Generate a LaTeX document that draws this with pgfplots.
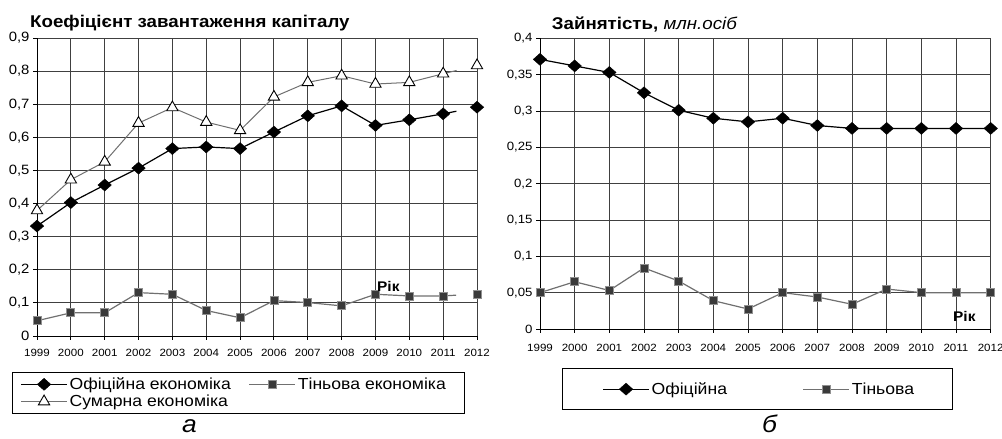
\documentclass[border=0pt]{standalone}
\usepackage{fontspec}
\setmainfont{Liberation Sans}[FakeStretch=1.1]
\usepackage{pgfplots}
\pgfplotsset{compat=1.18}
\definecolor{lgray}{HTML}{707070}
\definecolor{sqfill}{HTML}{3A3A3A}
\definecolor{sqdraw}{HTML}{909090}
\pgfplotsset{
  common/.style={
    scale only axis, clip=false,
    axis x line*=bottom, axis y line*=left,
    axis line style={-, black, line width=0.9pt},
    grid=major, major grid style={black!75, line width=0.9pt},
    tick align=outside, major tick length=4pt,
    tick style={black, line width=0.9pt},
    xtick={1999,...,2012},
    xticklabels={1999,2000,2001,2002,2003,2004,2005,2006,2007,2008,2009,2010,2011,2012},
    xticklabel style={font=\fontsize{10.5}{12}\selectfont},
    legend cell align=left,
    legend image code/.code={\draw[mark repeat=2,mark phase=2,##1] plot coordinates {(0pt,0pt) (23pt,0pt) (46pt,0pt)};},
  },
  ofi/.style={black, line width=1.2pt, mark=diamond*, mark size=6pt, mark options={solid, fill=black, xscale=1.5, line width=0.4pt}},
  tin/.style={lgray, line width=1.2pt, mark=square*, mark size=4pt, mark options={solid, fill=sqfill, draw=sqdraw, line width=0.8pt}},
  sum/.style={lgray, line width=1pt, mark=triangle*, mark size=6.5pt, mark options={solid, fill=white, draw=black, line width=0.9pt}},
}
\begin{document}
\begin{tikzpicture}
\useasboundingbox (0,0) rectangle (1002pt,439pt);
% ---------- left chart ----------
\begin{axis}[common,
  at={(37pt,103pt)}, anchor=south west, width=440pt, height=298pt,
  xmin=1999, xmax=2012, ymin=0, ymax=0.9,
  xticklabel style={yshift=-6pt},
  yticklabel style={font=\fontsize{13.5}{14}\selectfont},
  ytick={0,0.1,0.2,0.3,0.4,0.5,0.6,0.7,0.8,0.9},
  yticklabels={0,{0,1},{0,2},{0,3},{0,4},{0,5},{0,6},{0,7},{0,8},{0,9}},
  legend columns=2,
  legend style={at={(-0.0568,-0.1198)}, anchor=north west, draw=black, line width=0.9pt,
    inner xsep=8pt, inner ysep=3.5pt, font=\fontsize{16}{17}\selectfont,
    /tikz/column sep=0pt, /tikz/row sep=0pt},
]
\addplot[ofi] coordinates {(1999,0.332)(2000,0.403)(2001,0.456)(2002,0.507)(2003,0.566)(2004,0.571)(2005,0.566)(2006,0.616)(2007,0.665)(2008,0.695)(2009,0.636)(2010,0.653)(2011,0.671)};
\addlegendentry{\makebox[177pt][l]{Офіційна економіка}}
\addplot[black, line width=1.2pt, shorten >=21pt, forget plot] coordinates {(2011,0.671)(2012,0.691)};
\addplot[ofi, only marks, forget plot] coordinates {(2012,0.691)};
\addplot[tin] coordinates {(1999,0.046)(2000,0.070)(2001,0.070)(2002,0.131)(2003,0.126)(2004,0.077)(2005,0.055)(2006,0.107)(2007,0.101)(2008,0.091)(2009,0.126)(2010,0.121)(2011,0.121)};
\addlegendentry{\makebox[157pt][l]{Тіньова економіка}}
\addplot[lgray, line width=1.2pt, shorten >=21pt, forget plot] coordinates {(2011,0.121)(2012,0.127)};
\addplot[tin, only marks, forget plot] coordinates {(2012,0.127)};
\addplot[sum] coordinates {(1999,0.379)(2000,0.472)(2001,0.526)(2002,0.643)(2003,0.690)(2004,0.646)(2005,0.621)(2006,0.722)(2007,0.766)(2008,0.786)(2009,0.761)(2010,0.766)(2011,0.792)};
\addlegendentry{Сумарна економіка}
\addplot[lgray, line width=1pt, shorten >=21pt, forget plot] coordinates {(2011,0.792)(2012,0.817)};
\addplot[sum, only marks, forget plot] coordinates {(2012,0.817)};
\end{axis}
% ---------- right chart ----------
\begin{axis}[common,
  at={(540pt,110pt)}, anchor=south west, width=450.7pt, height=290.7pt,
  xmin=1999, xmax=2012, ymin=0, ymax=0.4,
  xticklabel style={yshift=-8pt},
  yticklabel style={font=\fontsize{12}{13}\selectfont},
  ytick={0,0.05,0.1,0.15,0.2,0.25,0.3,0.35,0.4},
  yticklabels={0,{0,05},{0,1},{0,15},{0,2},{0,25},{0,3},{0,35},{0,4}},
  legend columns=2,
  legend style={at={(0.0488,-0.1342)}, anchor=north west, draw=black, line width=0.9pt,
    inner xsep=40pt, inner ysep=12pt, font=\fontsize{16}{17}\selectfont,
    /tikz/column sep=0pt},
]
\addplot[ofi] coordinates {(1999,0.371)(2000,0.362)(2001,0.353)(2002,0.325)(2003,0.301)(2004,0.290)(2005,0.285)(2006,0.290)(2007,0.280)(2008,0.276)(2009,0.276)(2010,0.276)(2011,0.276)(2012,0.276)};
\addlegendentry{\makebox[149pt][l]{Офіційна}}
\addplot[tin] coordinates {(1999,0.050)(2000,0.065)(2001,0.053)(2002,0.084)(2003,0.066)(2004,0.039)(2005,0.0275)(2006,0.050)(2007,0.044)(2008,0.034)(2009,0.055)(2010,0.050)(2011,0.050)(2012,0.050)};
\addlegendentry{\makebox[59pt][l]{Тіньова}}
\end{axis}
% ---------- texts ----------
\node[anchor=base west, inner sep=0pt, font=\bfseries\fontsize{17}{19}\selectfont] at (30pt,411.7pt) {Коефіцієнт завантаження капіталу};
\node[anchor=base west, inner sep=0pt, font=\fontsize{17}{19}\selectfont] at (551.7pt,409pt) {\textbf{Зайнятість,} \textit{млн.осіб}};
\node[anchor=base west, inner sep=0pt, font=\bfseries\fontsize{14}{16}\selectfont] at (377pt,147.3pt) {Рік};
\node[anchor=base west, inner sep=0pt, font=\bfseries\fontsize{14}{16}\selectfont] at (953pt,117.3pt) {Рік};
\node[anchor=base west, inner sep=0pt, font=\itshape\fontsize{24}{26}\selectfont] at (182pt,6pt) {а};
\node[anchor=base west, inner sep=0pt, font=\itshape\fontsize{24}{26}\selectfont] at (762pt,6pt) {б};
\end{tikzpicture}
\end{document}
